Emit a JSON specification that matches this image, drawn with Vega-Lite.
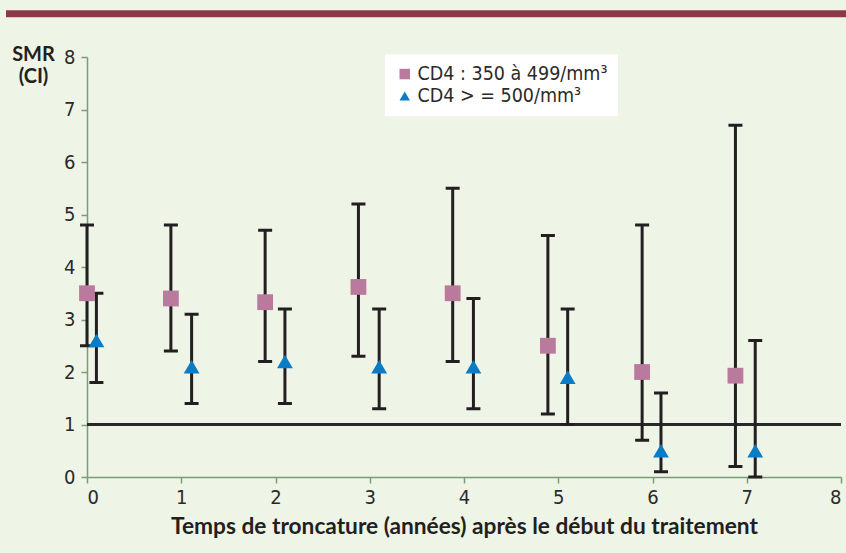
{
  "$schema": "https://vega.github.io/schema/vega-lite/v6.json",
  "background": "#eef4e6",
  "padding": {"left": 6, "top": 10, "right": 0, "bottom": 15},
  "width": 754,
  "height": 420,
  "config": {
    "view": {"stroke": null}
  },
  "data": {
    "values": [
      {"series": "CD4 : 350 à 499/mm³", "t": 0, "smr": 3.5, "lo": 2.5, "hi": 4.8},
      {"series": "CD4 : 350 à 499/mm³", "t": 0.89, "smr": 3.4, "lo": 2.4, "hi": 4.8},
      {"series": "CD4 : 350 à 499/mm³", "t": 1.89, "smr": 3.33, "lo": 2.2, "hi": 4.7},
      {"series": "CD4 : 350 à 499/mm³", "t": 2.88, "smr": 3.62, "lo": 2.3, "hi": 5.2},
      {"series": "CD4 : 350 à 499/mm³", "t": 3.88, "smr": 3.5, "lo": 2.2, "hi": 5.5},
      {"series": "CD4 : 350 à 499/mm³", "t": 4.89, "smr": 2.5, "lo": 1.2, "hi": 4.6},
      {"series": "CD4 : 350 à 499/mm³", "t": 5.89, "smr": 2.0, "lo": 0.7, "hi": 4.8},
      {"series": "CD4 : 350 à 499/mm³", "t": 6.88, "smr": 1.93, "lo": 0.2, "hi": 6.7},
      {"series": "CD4 > = 500/mm³", "t": 0.1, "smr": 2.6, "lo": 1.8, "hi": 3.5},
      {"series": "CD4 > = 500/mm³", "t": 1.11, "smr": 2.1, "lo": 1.4, "hi": 3.1},
      {"series": "CD4 > = 500/mm³", "t": 2.1, "smr": 2.2, "lo": 1.4, "hi": 3.2},
      {"series": "CD4 > = 500/mm³", "t": 3.1, "smr": 2.1, "lo": 1.3, "hi": 3.2},
      {"series": "CD4 > = 500/mm³", "t": 4.1, "smr": 2.1, "lo": 1.3, "hi": 3.4},
      {"series": "CD4 > = 500/mm³", "t": 5.1, "smr": 1.9, "lo": 1.0, "hi": 3.2},
      {"series": "CD4 > = 500/mm³", "t": 6.09, "smr": 0.5, "lo": 0.1, "hi": 1.6},
      {"series": "CD4 > = 500/mm³", "t": 7.09, "smr": 0.5, "lo": 0.0, "hi": 2.6}
    ]
  },
  "encoding": {
    "x": {
      "field": "t",
      "type": "quantitative",
      "scale": {"domain": [0, 8], "nice": false, "zero": false},
      "axis": {
        "values": [0, 1, 2, 3, 4, 5, 6, 7, 8],
        "format": "d",
        "grid": false,
        "domainColor": "#7a9c7a",
        "domainWidth": 1.5,
        "tickColor": "#7a9c7a",
        "tickWidth": 1.5,
        "tickSize": 6,
        "labelFont": "DejaVu Sans Condensed",
        "labelFontSize": 20,
        "labelColor": "#2a2a2a",
        "labelPadding": 4,
        "title": "Temps de troncature (années) après le début du traitement",
        "titleFont": "Lato",
        "titleFontWeight": "bold",
        "titleFontSize": 22.7,
        "titleColor": "#231f20",
        "titlePadding": 8
      }
    }
  },
  "layer": [
    {
      "mark": {"type": "point", "opacity": 0, "size": 1},
      "encoding": {
        "y": {"field": "smr", "type": "quantitative"},
        "fill": {
          "field": "smr",
          "type": "quantitative",
          "scale": {"range": ["#8b3a49", "#8b3a49"]},
          "legend": {
            "title": null,
            "orient": "none",
            "direction": "horizontal",
            "legendX": -81,
            "legendY": -46.7,
            "padding": 0,
            "gradientLength": 840,
            "gradientThickness": 7,
            "gradientStrokeWidth": 0,
            "labelExpr": "''",
            "labelFontSize": 1,
            "labelOffset": 0,
            "tickCount": 2
          }
        }
      }
    },
    {
      "mark": {"type": "rule", "color": "#2a2a2a", "strokeWidth": 1.5},
      "encoding": {"x": null, "y": {"datum": 1, "type": "quantitative"}}
    },
    {
      "mark": {"type": "rule", "color": "#231f20", "strokeWidth": 3},
      "encoding": {
        "y": {
          "field": "lo",
          "type": "quantitative",
          "scale": {"domain": [0, 8], "nice": false},
          "axis": {
            "values": [0, 1, 2, 3, 4, 5, 6, 7, 8],
            "format": "d",
            "grid": false,
            "domainColor": "#7a9c7a",
            "domainWidth": 1.5,
            "tickColor": "#7a9c7a",
            "tickWidth": 1.5,
            "tickSize": 6,
            "labelFont": "DejaVu Sans Condensed",
            "labelFontSize": 20,
            "labelColor": "#2a2a2a",
            "labelPadding": 6,
            "title": ["SMR", "(CI)"],
            "titleFont": "Lato",
            "titleFontWeight": "bold",
            "titleFontSize": 20,
            "titleColor": "#231f20",
            "titleAngle": 0,
            "titleAlign": "center",
            "titleBaseline": "alphabetic",
            "titleLineHeight": 22,
            "titleX": -54,
            "titleY": 3
          }
        },
        "y2": {"field": "hi"}
      }
    },
    {
      "mark": {"type": "tick", "orient": "horizontal", "color": "#231f20", "thickness": 3, "size": 14, "opacity": 1},
      "encoding": {"y": {"field": "lo", "type": "quantitative"}}
    },
    {
      "mark": {"type": "tick", "orient": "horizontal", "color": "#231f20", "thickness": 3, "size": 14, "opacity": 1},
      "encoding": {"y": {"field": "hi", "type": "quantitative"}}
    },
    {
      "mark": {"type": "point", "filled": true, "opacity": 1, "size": 250},
      "encoding": {
        "y": {"field": "smr", "type": "quantitative"},
        "shape": {
          "field": "series",
          "type": "nominal",
          "scale": {"domain": ["CD4 : 350 à 499/mm³", "CD4 > = 500/mm³"], "range": ["square", "triangle-up"]},
          "legend": null
        },
        "color": {
          "field": "series",
          "type": "nominal",
          "scale": {"domain": ["CD4 : 350 à 499/mm³", "CD4 > = 500/mm³"], "range": ["#b97a9d", "#0a7cc6"]},
          "legend": {
            "title": null,
            "orient": "none",
            "legendX": 298,
            "legendY": -2.7,
            "fillColor": "#ffffff",
            "padding": 10,
            "symbolType": "square",
            "symbolSize": 110,
            "labelFont": "DejaVu Sans Condensed",
            "labelFontSize": 19.5,
            "labelColor": "#2a2a2a",
            "labelOffset": 3,
            "labelLimit": 400,
            "rowPadding": 1
          }
        }
      }
    }
  ]
}
